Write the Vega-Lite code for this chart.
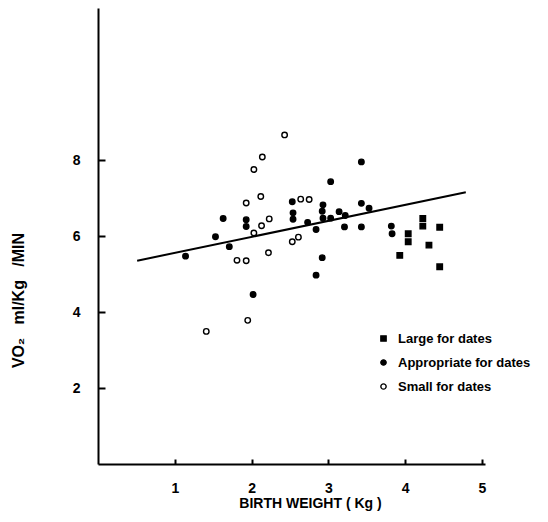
{
  "$schema": "https://vega.github.io/schema/vega-lite/v6.json",
  "width": 387,
  "height": 456,
  "autosize": {"type": "none"},
  "padding": {"left": 98, "top": 8, "right": 63, "bottom": 58},
  "background": "white",
  "config": {
    "view": {"stroke": null},
    "font": "Liberation Sans",
    "axis": {"grid": false, "domainColor": "black", "domainWidth": 2, "tickColor": "black", "tickWidth": 2, "labelFont": "Liberation Sans", "labelFontWeight": "bold", "labelFontSize": 14, "labelColor": "black", "titleFont": "Liberation Sans", "titleFontWeight": "bold", "titleFontSize": 14, "titleColor": "black"},
    "legend": {"symbolStrokeColor": "black", "symbolStrokeWidth": 1.4}
  },
  "datasets": {
    "pts": [
      {"bw": 2.43, "vo2": 8.66, "group": "Small for dates"},
      {"bw": 2.14, "vo2": 8.08, "group": "Small for dates"},
      {"bw": 2.03, "vo2": 7.75, "group": "Small for dates"},
      {"bw": 1.93, "vo2": 6.87, "group": "Small for dates"},
      {"bw": 2.12, "vo2": 7.04, "group": "Small for dates"},
      {"bw": 2.23, "vo2": 6.45, "group": "Small for dates"},
      {"bw": 2.13, "vo2": 6.27, "group": "Small for dates"},
      {"bw": 2.03, "vo2": 6.08, "group": "Small for dates"},
      {"bw": 1.81, "vo2": 5.36, "group": "Small for dates"},
      {"bw": 1.93, "vo2": 5.35, "group": "Small for dates"},
      {"bw": 2.22, "vo2": 5.56, "group": "Small for dates"},
      {"bw": 2.64, "vo2": 6.97, "group": "Small for dates"},
      {"bw": 2.75, "vo2": 6.96, "group": "Small for dates"},
      {"bw": 2.53, "vo2": 5.85, "group": "Small for dates"},
      {"bw": 2.61, "vo2": 5.97, "group": "Small for dates"},
      {"bw": 1.95, "vo2": 3.78, "group": "Small for dates"},
      {"bw": 1.41, "vo2": 3.49, "group": "Small for dates"},
      {"bw": 1.14, "vo2": 5.47, "group": "Appropriate for dates"},
      {"bw": 1.53, "vo2": 5.98, "group": "Appropriate for dates"},
      {"bw": 1.63, "vo2": 6.46, "group": "Appropriate for dates"},
      {"bw": 1.71, "vo2": 5.72, "group": "Appropriate for dates"},
      {"bw": 1.93, "vo2": 6.43, "group": "Appropriate for dates"},
      {"bw": 1.93, "vo2": 6.25, "group": "Appropriate for dates"},
      {"bw": 2.02, "vo2": 4.46, "group": "Appropriate for dates"},
      {"bw": 2.53, "vo2": 6.9, "group": "Appropriate for dates"},
      {"bw": 2.54, "vo2": 6.61, "group": "Appropriate for dates"},
      {"bw": 2.54, "vo2": 6.44, "group": "Appropriate for dates"},
      {"bw": 2.73, "vo2": 6.36, "group": "Appropriate for dates"},
      {"bw": 2.84, "vo2": 6.17, "group": "Appropriate for dates"},
      {"bw": 2.84, "vo2": 4.97, "group": "Appropriate for dates"},
      {"bw": 2.92, "vo2": 5.43, "group": "Appropriate for dates"},
      {"bw": 2.93, "vo2": 6.82, "group": "Appropriate for dates"},
      {"bw": 2.92, "vo2": 6.65, "group": "Appropriate for dates"},
      {"bw": 2.93, "vo2": 6.47, "group": "Appropriate for dates"},
      {"bw": 3.03, "vo2": 6.47, "group": "Appropriate for dates"},
      {"bw": 3.03, "vo2": 7.43, "group": "Appropriate for dates"},
      {"bw": 3.14, "vo2": 6.64, "group": "Appropriate for dates"},
      {"bw": 3.22, "vo2": 6.54, "group": "Appropriate for dates"},
      {"bw": 3.21, "vo2": 6.24, "group": "Appropriate for dates"},
      {"bw": 3.43, "vo2": 7.95, "group": "Appropriate for dates"},
      {"bw": 3.43, "vo2": 6.86, "group": "Appropriate for dates"},
      {"bw": 3.43, "vo2": 6.24, "group": "Appropriate for dates"},
      {"bw": 3.53, "vo2": 6.73, "group": "Appropriate for dates"},
      {"bw": 3.82, "vo2": 6.26, "group": "Appropriate for dates"},
      {"bw": 3.83, "vo2": 6.06, "group": "Appropriate for dates"},
      {"bw": 4.04, "vo2": 6.06, "group": "Large for dates"},
      {"bw": 4.04, "vo2": 5.85, "group": "Large for dates"},
      {"bw": 3.93, "vo2": 5.49, "group": "Large for dates"},
      {"bw": 4.23, "vo2": 6.46, "group": "Large for dates"},
      {"bw": 4.23, "vo2": 6.26, "group": "Large for dates"},
      {"bw": 4.31, "vo2": 5.76, "group": "Large for dates"},
      {"bw": 4.45, "vo2": 5.19, "group": "Large for dates"},
      {"bw": 4.45, "vo2": 6.23, "group": "Large for dates"}
    ],
    "fit": [
      {"bw": 0.51, "vo2": 5.35},
      {"bw": 4.79, "vo2": 7.15}
    ]
  },
  "layer": [
    {
      "data": {"name": "fit"},
      "mark": {"type": "line", "color": "black", "strokeWidth": 2},
      "encoding": {
        "x": {"field": "bw", "type": "quantitative"},
        "y": {"field": "vo2", "type": "quantitative"}
      }
    },
    {
      "data": {"name": "pts"},
      "mark": {"type": "point", "strokeWidth": 1.4, "opacity": 1, "size": 30},
      "encoding": {
        "x": {"field": "bw", "type": "quantitative", "scale": {"domain": [0, 5.04], "nice": false, "zero": false},
          "axis": {"values": [1, 2, 3, 4, 5], "format": "d", "tickSize": -5, "labelPadding": 22, "title": "BIRTH WEIGHT ( Kg )", "titleX": 212, "titleY": 39, "titleAlign": "center", "titleBaseline": "middle", "titleAnchor": null}},
        "y": {"field": "vo2", "type": "quantitative", "scale": {"domain": [0, 12], "nice": false},
          "axis": {"values": [2, 4, 6, 8], "format": "d", "tickSize": -7, "labelPadding": 25, "title": "VO₂\u00a0\u00a0\u00a0ml/Kg\u00a0\u00a0\u00a0/MIN", "titleX": -80, "titleY": 292, "titleAngle": -90, "titleAlign": "center", "titleBaseline": "middle", "titleFontSize": 16}},
        "shape": {"field": "group", "type": "nominal",
          "scale": {"domain": ["Large for dates", "Appropriate for dates", "Small for dates"], "range": ["square", "circle", "circle"]},
          "legend": {"title": null, "orient": "none", "legendX": 279, "legendY": 324, "labelFont": "Liberation Sans", "labelFontWeight": "bold", "labelFontSize": 13, "labelColor": "black", "symbolSize": 28, "rowPadding": 10, "labelOffset": 8, "padding": 0}},
        "fill": {"field": "group", "type": "nominal",
          "scale": {"domain": ["Large for dates", "Appropriate for dates", "Small for dates"], "range": ["black", "black", "white"]},
          "legend": {"title": null, "orient": "none", "legendX": 279, "legendY": 324, "labelFont": "Liberation Sans", "labelFontWeight": "bold", "labelFontSize": 13, "labelColor": "black", "symbolSize": 28, "rowPadding": 10, "labelOffset": 8, "padding": 0}},
        "stroke": {"field": "group", "type": "nominal",
          "scale": {"domain": ["Large for dates", "Appropriate for dates", "Small for dates"], "range": ["black", "black", "black"]},
          "legend": {"title": null, "orient": "none", "legendX": 279, "legendY": 324, "labelFont": "Liberation Sans", "labelFontWeight": "bold", "labelFontSize": 13, "labelColor": "black", "symbolSize": 28, "rowPadding": 10, "labelOffset": 8, "padding": 0}}
      }
    }
  ]
}
